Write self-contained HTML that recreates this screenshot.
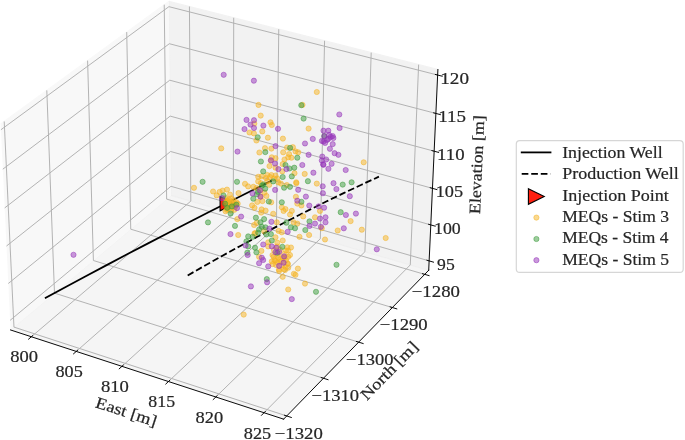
<!DOCTYPE html>
<html><head><meta charset="utf-8"><style>
html,body{margin:0;padding:0;background:#fff;}
svg{display:block;will-change:transform;}
.mpl *{stroke-linejoin:round;stroke-linecap:butt;}
text{font-family:"Liberation Serif",serif;stroke:#262626;stroke-width:0.2px;}
</style></head><body>
<svg width="685" height="440" viewBox="0 0 685 440">
<rect width="685" height="440" fill="#fff"/>
<g class="mpl" transform="scale(1.3888889)">
<g id="figure_1">
  <g id="patch_1">
   <path d="M -18.841095 323.876609 
L 331.194357 323.876609 
L 331.194357 -26.158843 
L -18.841095 -26.158843 
z
" style="fill: #ffffff"/>
  </g>
  <g id="pane3d_1">
   <g id="patch_2">
    <path d="M 7.588996 237.569084 
L 123.182134 140.676624 
L 121.575278 0.940375 
L 0.450413 89.331785 
" style="fill: #f2f2f2; opacity: 0.5; stroke: #f2f2f2; stroke-width: 0.864; stroke-linejoin: miter"/>
   </g>
  </g>
  <g id="pane3d_2">
   <g id="patch_3">
    <path d="M 123.182134 140.676624 
L 308.667876 194.590006 
L 315.287208 50.040703 
L 121.575278 0.940375 
" style="fill: #e6e6e6; opacity: 0.5; stroke: #e6e6e6; stroke-width: 0.864; stroke-linejoin: miter"/>
   </g>
  </g>
  <g id="pane3d_3">
   <g id="patch_4">
    <path d="M 7.588996 237.569084 
L 204.212942 301.786465 
L 308.667876 194.590006 
L 123.182134 140.676624 
" style="fill: #ececec; opacity: 0.5; stroke: #ececec; stroke-width: 0.864; stroke-linejoin: miter"/>
   </g>
  </g>
  <g id="grid3d_1">
   <g id="Line3DCollection_1">
    <path d="M 22.592725 242.469302 
L 137.393772 144.807386 
L 136.38829 4.695042 
" style="fill: none; stroke: #b0b0b0; stroke-width: 0.6912"/>
    <path d="M 54.9068 253.023079 
L 167.969336 153.694495 
L 168.273909 12.777117 
" style="fill: none; stroke: #b0b0b0; stroke-width: 0.6912"/>
    <path d="M 87.798813 263.76561 
L 199.046157 162.7273 
L 200.704999 20.997453 
" style="fill: none; stroke: #b0b0b0; stroke-width: 0.6912"/>
    <path d="M 121.284407 274.702005 
L 230.636664 171.909414 
L 233.695677 29.359628 
" style="fill: none; stroke: #b0b0b0; stroke-width: 0.6912"/>
    <path d="M 155.379798 285.83756 
L 262.753699 181.244568 
L 267.260554 37.867346 
" style="fill: none; stroke: #b0b0b0; stroke-width: 0.6912"/>
    <path d="M 190.101795 297.177764 
L 295.410537 190.736621 
L 301.41475 46.524439 
" style="fill: none; stroke: #b0b0b0; stroke-width: 0.6912"/>
   </g>
  </g>
  <g id="grid3d_2">
   <g id="Line3DCollection_2">
    <path d="M 3.036123 87.444852 
L 10.047464 235.508347 
L 206.44414 299.496707 
" style="fill: none; stroke: #b0b0b0; stroke-width: 0.6912"/>
    <path d="M 33.704325 65.064594 
L 39.236869 211.041209 
L 232.903108 272.343297 
" style="fill: none; stroke: #b0b0b0; stroke-width: 0.6912"/>
    <path d="M 63.075169 43.631091 
L 67.244091 187.565 
L 258.235019 246.346524 
" style="fill: none; stroke: #b0b0b0; stroke-width: 0.6912"/>
    <path d="M 91.229272 23.085509 
L 94.139524 165.020716 
L 282.510386 221.434026 
" style="fill: none; stroke: #b0b0b0; stroke-width: 0.6912"/>
    <path d="M 118.240707 3.373793 
L 119.988079 143.353944 
L 305.793956 197.539355 
" style="fill: none; stroke: #b0b0b0; stroke-width: 0.6912"/>
   </g>
  </g>
  <g id="grid3d_3">
   <g id="Line3DCollection_3">
    <path d="M 308.976862 187.842544 
L 123.106976 134.140692 
L 7.256307 230.660583 
" style="fill: none; stroke: #b0b0b0; stroke-width: 0.6912"/>
    <path d="M 310.163074 161.938693 
L 122.818578 109.060888 
L 5.978611 204.128398 
" style="fill: none; stroke: #b0b0b0; stroke-width: 0.6912"/>
    <path d="M 311.368446 135.61645 
L 122.525746 83.595445 
L 4.679487 177.151251 
" style="fill: none; stroke: #b0b0b0; stroke-width: 0.6912"/>
    <path d="M 312.593446 108.865596 
L 122.228376 57.735397 
L 3.358392 149.717854 
" style="fill: none; stroke: #b0b0b0; stroke-width: 0.6912"/>
    <path d="M 313.838556 81.675577 
L 121.926362 31.471503 
L 2.014763 121.816533 
" style="fill: none; stroke: #b0b0b0; stroke-width: 0.6912"/>
    <path d="M 315.104275 54.035488 
L 121.619594 4.794227 
L 0.648019 93.435215 
" style="fill: none; stroke: #b0b0b0; stroke-width: 0.6912"/>
   </g>
  </g>
  <g id="axis3d_1">
   <g id="line2d_1">
    <path d="M 7.588996 237.569084 
L 204.212942 301.786465 
" style="fill: none; stroke: #000000; stroke-width: 0.6912; stroke-linecap: square"/>
   </g>
   <g id="xtick_1">
    <g id="line2d_2">
     <path d="M 23.592475 241.618809 
L 20.588931 244.173941 
" style="fill: none; stroke: #000000; stroke-width: 0.6912; stroke-linecap: square"/>
    </g>
   </g>
   <g id="xtick_2">
    <g id="line2d_3">
     <path d="M 55.89212 252.157448 
L 52.931892 254.758091 
" style="fill: none; stroke: #000000; stroke-width: 0.6912; stroke-linecap: square"/>
    </g>
   </g>
   <g id="xtick_3">
    <g id="line2d_4">
     <path d="M 88.769024 262.884434 
L 85.854149 265.531815 
" style="fill: none; stroke: #000000; stroke-width: 0.6912; stroke-linecap: square"/>
    </g>
   </g>
   <g id="xtick_4">
    <g id="line2d_5">
     <path d="M 122.238802 273.804861 
L 119.371408 276.500251 
" style="fill: none; stroke: #000000; stroke-width: 0.6912; stroke-linecap: square"/>
    </g>
   </g>
   <g id="xtick_5">
    <g id="line2d_6">
     <path d="M 156.317637 284.92401 
L 153.499945 287.668726 
" style="fill: none; stroke: #000000; stroke-width: 0.6912; stroke-linecap: square"/>
    </g>
   </g>
   <g id="xtick_6">
    <g id="line2d_7">
     <path d="M 191.022306 296.247354 
L 188.256636 299.042764 
" style="fill: none; stroke: #000000; stroke-width: 0.6912; stroke-linecap: square"/>
    </g>
   </g>
  </g>
  <g id="axis3d_2">
   <g id="line2d_8">
    <path d="M 308.667876 194.590006 
L 204.212942 301.786465 
" style="fill: none; stroke: #000000; stroke-width: 0.6912; stroke-linecap: square"/>
   </g>
   <g id="xtick_7">
    <g id="line2d_9">
     <path d="M 204.788753 298.957362 
L 209.759212 300.576797 
" style="fill: none; stroke: #000000; stroke-width: 0.6912; stroke-linecap: square"/>
    </g>
   </g>
   <g id="xtick_8">
    <g id="line2d_10">
     <path d="M 231.272542 271.827166 
L 236.168382 273.37687 
" style="fill: none; stroke: #000000; stroke-width: 0.6912; stroke-linecap: square"/>
    </g>
   </g>
   <g id="xtick_9">
    <g id="line2d_11">
     <path d="M 256.628684 245.85214 
L 261.451684 247.336521 
" style="fill: none; stroke: #000000; stroke-width: 0.6912; stroke-linecap: square"/>
    </g>
   </g>
   <g id="xtick_10">
    <g id="line2d_12">
     <path d="M 280.927698 220.960043 
L 285.679613 222.383147 
" style="fill: none; stroke: #000000; stroke-width: 0.6912; stroke-linecap: square"/>
    </g>
   </g>
   <g id="xtick_11">
    <g id="line2d_13">
     <path d="M 304.234345 197.084535 
L 308.916898 198.450079 
" style="fill: none; stroke: #000000; stroke-width: 0.6912; stroke-linecap: square"/>
    </g>
   </g>
  </g>
  <g id="axis3d_3">
   <g id="line2d_14">
    <path d="M 308.667876 194.590006 
L 315.287208 50.040703 
" style="fill: none; stroke: #000000; stroke-width: 0.6912; stroke-linecap: square"/>
   </g>
   <g id="xtick_12">
    <g id="line2d_15">
     <path d="M 307.416749 187.391794 
L 312.100806 188.74512 
" style="fill: none; stroke: #000000; stroke-width: 0.6912; stroke-linecap: square"/>
    </g>
   </g>
   <g id="xtick_13">
    <g id="line2d_16">
     <path d="M 308.589994 161.494692 
L 313.313015 162.82776 
" style="fill: none; stroke: #000000; stroke-width: 0.6912; stroke-linecap: square"/>
    </g>
   </g>
   <g id="xtick_14">
    <g id="line2d_17">
     <path d="M 309.782181 135.179477 
L 314.544819 136.491454 
" style="fill: none; stroke: #000000; stroke-width: 0.6912; stroke-linecap: square"/>
    </g>
   </g>
   <g id="xtick_15">
    <g id="line2d_18">
     <path d="M 310.993773 108.43594 
L 315.796697 109.725958 
" style="fill: none; stroke: #000000; stroke-width: 0.6912; stroke-linecap: square"/>
    </g>
   </g>
   <g id="xtick_16">
    <g id="line2d_19">
     <path d="M 312.225247 81.253537 
L 317.069144 82.520696 
" style="fill: none; stroke: #000000; stroke-width: 0.6912; stroke-linecap: square"/>
    </g>
   </g>
   <g id="xtick_17">
    <g id="line2d_20">
     <path d="M 313.477097 53.621376 
L 318.362671 54.86474 
" style="fill: none; stroke: #000000; stroke-width: 0.6912; stroke-linecap: square"/>
    </g>
   </g>
  </g>
  <g id="axes_1"/>
 </g>

</g>
<path d="M45.70,297.78 L66.17,286.72 L86.65,275.74 L107.12,264.86 L127.59,254.07 L148.06,243.37 L168.54,232.76 L189.01,222.24 L209.48,211.81 L229.95,201.47 L250.43,191.22 L270.90,181.06" fill="none" stroke="#000" stroke-width="1.8" stroke-linecap="square"/>
<path d="M187.70,275.41 L205.08,265.48 L222.46,255.74 L239.85,246.19 L257.23,236.83 L274.61,227.66 L291.99,218.69 L309.37,209.90 L326.75,201.31 L344.14,192.91 L361.52,184.70 L378.90,176.69" fill="none" stroke="#000" stroke-width="1.8" stroke-dasharray="6.66 2.88"/>
<path d="M220.10,196.45 L234.70,203.65 L220.10,210.85 Z" fill="#ff2010" stroke="#000" stroke-width="1.1" stroke-linejoin="miter"/>
<g fill="#f5b423" fill-opacity="0.5" stroke="#f5b423" stroke-opacity="0.5" stroke-width="1.0"><circle cx="363.7" cy="162.3" r="2.6"/><circle cx="194.0" cy="187.8" r="2.6"/><circle cx="258.5" cy="104.9" r="2.6"/><circle cx="316.8" cy="92.0" r="2.6"/><circle cx="302.5" cy="104.9" r="2.6"/><circle cx="221.2" cy="148.4" r="2.6"/><circle cx="254.3" cy="123.6" r="2.6"/><circle cx="249.5" cy="132.5" r="2.6"/><circle cx="253.9" cy="133.4" r="2.6"/><circle cx="260.7" cy="115.6" r="2.6"/><circle cx="270.5" cy="122.3" r="2.6"/><circle cx="271.8" cy="125.0" r="2.6"/><circle cx="262.3" cy="131.4" r="2.6"/><circle cx="256.4" cy="140.5" r="2.6"/><circle cx="267.9" cy="137.7" r="2.6"/><circle cx="282.9" cy="138.6" r="2.6"/><circle cx="308.6" cy="128.6" r="2.6"/><circle cx="304.7" cy="173.9" r="2.6"/><circle cx="316.8" cy="183.6" r="2.6"/><circle cx="350.6" cy="221.1" r="2.6"/><circle cx="361.8" cy="229.7" r="2.6"/><circle cx="385.7" cy="238.0" r="2.6"/><circle cx="296.4" cy="183.2" r="2.6"/><circle cx="280.9" cy="183.6" r="2.6"/><circle cx="286.8" cy="185.0" r="2.6"/><circle cx="295.9" cy="196.8" r="2.6"/><circle cx="297.3" cy="203.6" r="2.6"/><circle cx="301.4" cy="205.5" r="2.6"/><circle cx="281.8" cy="207.3" r="2.6"/><circle cx="285.5" cy="209.1" r="2.6"/><circle cx="291.8" cy="210.9" r="2.6"/><circle cx="290.0" cy="214.5" r="2.6"/><circle cx="283.6" cy="210.9" r="2.6"/><circle cx="320.0" cy="210.9" r="2.6"/><circle cx="303.2" cy="216.4" r="2.6"/><circle cx="315.0" cy="217.3" r="2.6"/><circle cx="259.4" cy="152.5" r="2.6"/><circle cx="265.0" cy="148.2" r="2.6"/><circle cx="271.4" cy="148.6" r="2.6"/><circle cx="287.0" cy="147.5" r="2.6"/><circle cx="292.9" cy="147.2" r="2.6"/><circle cx="283.2" cy="152.3" r="2.6"/><circle cx="289.1" cy="154.1" r="2.6"/><circle cx="295.5" cy="151.4" r="2.6"/><circle cx="298.2" cy="152.3" r="2.6"/><circle cx="271.8" cy="157.3" r="2.6"/><circle cx="275.5" cy="158.2" r="2.6"/><circle cx="269.5" cy="166.1" r="2.6"/><circle cx="275.5" cy="167.7" r="2.6"/><circle cx="284.5" cy="159.5" r="2.6"/><circle cx="288.2" cy="157.3" r="2.6"/><circle cx="291.4" cy="157.7" r="2.6"/><circle cx="282.7" cy="164.1" r="2.6"/><circle cx="282.3" cy="171.4" r="2.6"/><circle cx="294.5" cy="173.2" r="2.6"/><circle cx="296.2" cy="182.3" r="2.6"/><circle cx="258.2" cy="176.8" r="2.6"/><circle cx="261.8" cy="176.4" r="2.6"/><circle cx="267.3" cy="175.0" r="2.6"/><circle cx="271.4" cy="175.0" r="2.6"/><circle cx="275.5" cy="175.5" r="2.6"/><circle cx="277.3" cy="178.6" r="2.6"/><circle cx="258.2" cy="181.4" r="2.6"/><circle cx="260.9" cy="183.2" r="2.6"/><circle cx="267.3" cy="181.4" r="2.6"/><circle cx="278.2" cy="182.3" r="2.6"/><circle cx="245.0" cy="183.8" r="2.6"/><circle cx="213.1" cy="191.5" r="2.6"/><circle cx="216.7" cy="195.4" r="2.6"/><circle cx="219.6" cy="191.9" r="2.6"/><circle cx="222.6" cy="190.6" r="2.6"/><circle cx="227.0" cy="189.6" r="2.6"/><circle cx="230.0" cy="194.6" r="2.6"/><circle cx="231.2" cy="198.4" r="2.6"/><circle cx="238.5" cy="193.1" r="2.6"/><circle cx="225.5" cy="198.2" r="2.6"/><circle cx="228.2" cy="201.6" r="2.6"/><circle cx="232.3" cy="202.3" r="2.6"/><circle cx="234.3" cy="204.4" r="2.6"/><circle cx="236.4" cy="202.3" r="2.6"/><circle cx="237.7" cy="203.7" r="2.6"/><circle cx="226.8" cy="209.8" r="2.6"/><circle cx="230.9" cy="210.5" r="2.6"/><circle cx="234.3" cy="209.8" r="2.6"/><circle cx="228.9" cy="205.7" r="2.6"/><circle cx="225.5" cy="211.2" r="2.6"/><circle cx="248.1" cy="186.4" r="2.6"/><circle cx="253.3" cy="186.8" r="2.6"/><circle cx="269.2" cy="184.8" r="2.6"/><circle cx="256.5" cy="188.0" r="2.6"/><circle cx="264.4" cy="192.7" r="2.6"/><circle cx="266.4" cy="195.9" r="2.6"/><circle cx="257.3" cy="201.9" r="2.6"/><circle cx="262.4" cy="201.1" r="2.6"/><circle cx="252.1" cy="205.4" r="2.6"/><circle cx="254.5" cy="207.8" r="2.6"/><circle cx="271.2" cy="202.3" r="2.6"/><circle cx="261.6" cy="209.4" r="2.6"/><circle cx="265.6" cy="210.6" r="2.6"/><circle cx="261.2" cy="212.6" r="2.6"/><circle cx="273.2" cy="213.8" r="2.6"/><circle cx="237.3" cy="219.1" r="2.6"/><circle cx="238.2" cy="235.0" r="2.6"/><circle cx="254.1" cy="225.0" r="2.6"/><circle cx="256.8" cy="222.7" r="2.6"/><circle cx="276.8" cy="222.3" r="2.6"/><circle cx="278.6" cy="230.9" r="2.6"/><circle cx="281.8" cy="232.3" r="2.6"/><circle cx="254.5" cy="233.6" r="2.6"/><circle cx="275.5" cy="237.3" r="2.6"/><circle cx="282.7" cy="240.5" r="2.6"/><circle cx="268.2" cy="242.3" r="2.6"/><circle cx="268.2" cy="246.4" r="2.6"/><circle cx="287.3" cy="247.3" r="2.6"/><circle cx="277.3" cy="242.7" r="2.6"/><circle cx="293.6" cy="222.3" r="2.6"/><circle cx="297.3" cy="223.6" r="2.6"/><circle cx="321.8" cy="228.2" r="2.6"/><circle cx="309.1" cy="235.0" r="2.6"/><circle cx="299.5" cy="236.8" r="2.6"/><circle cx="325.0" cy="239.5" r="2.6"/><circle cx="337.7" cy="230.5" r="2.6"/><circle cx="291.0" cy="247.5" r="2.6"/><circle cx="261.4" cy="250.9" r="2.6"/><circle cx="259.1" cy="256.8" r="2.6"/><circle cx="288.2" cy="250.5" r="2.6"/><circle cx="273.6" cy="256.8" r="2.6"/><circle cx="278.2" cy="257.7" r="2.6"/><circle cx="284.5" cy="257.7" r="2.6"/><circle cx="288.2" cy="256.8" r="2.6"/><circle cx="271.8" cy="261.4" r="2.6"/><circle cx="275.5" cy="260.5" r="2.6"/><circle cx="280.9" cy="261.4" r="2.6"/><circle cx="287.3" cy="263.2" r="2.6"/><circle cx="272.7" cy="264.1" r="2.6"/><circle cx="285.5" cy="266.8" r="2.6"/><circle cx="279.1" cy="270.9" r="2.6"/><circle cx="283.6" cy="269.1" r="2.6"/><circle cx="288.2" cy="267.7" r="2.6"/><circle cx="282.7" cy="276.8" r="2.6"/><circle cx="297.9" cy="268.6" r="2.6"/><circle cx="293.9" cy="273.8" r="2.6"/><circle cx="295.5" cy="274.8" r="2.6"/><circle cx="305.0" cy="283.6" r="2.6"/><circle cx="288.2" cy="289.5" r="2.6"/><circle cx="243.7" cy="314.6" r="2.6"/><circle cx="226.2" cy="203.0" r="2.6"/><circle cx="227.5" cy="206.5" r="2.6"/><circle cx="228.8" cy="199.5" r="2.6"/><circle cx="226.5" cy="200.8" r="2.6"/><circle cx="228.5" cy="208.5" r="2.6"/><circle cx="233.5" cy="200.0" r="2.6"/><circle cx="235.0" cy="207.0" r="2.6"/><circle cx="274.0" cy="250.0" r="2.6"/><circle cx="280.0" cy="249.5" r="2.6"/><circle cx="286.0" cy="250.5" r="2.6"/><circle cx="272.5" cy="255.0" r="2.6"/><circle cx="278.0" cy="255.0" r="2.6"/><circle cx="284.0" cy="254.0" r="2.6"/><circle cx="290.0" cy="255.0" r="2.6"/><circle cx="274.5" cy="260.0" r="2.6"/><circle cx="280.0" cy="260.0" r="2.6"/><circle cx="286.0" cy="260.0" r="2.6"/><circle cx="276.0" cy="265.0" r="2.6"/><circle cx="282.0" cy="265.5" r="2.6"/><circle cx="288.0" cy="264.0" r="2.6"/><circle cx="279.0" cy="269.5" r="2.6"/><circle cx="285.0" cy="270.0" r="2.6"/><circle cx="277.0" cy="246.5" r="2.6"/><circle cx="283.0" cy="258.0" r="2.6"/><circle cx="277.5" cy="262.5" r="2.6"/><circle cx="264.1" cy="231.1" r="2.6"/><circle cx="255.2" cy="233.0" r="2.6"/><circle cx="227.5" cy="200.5" r="2.6"/><circle cx="229.0" cy="204.0" r="2.6"/><circle cx="227.5" cy="209.0" r="2.6"/><circle cx="230.5" cy="202.0" r="2.6"/><circle cx="231.5" cy="207.5" r="2.6"/><circle cx="233.0" cy="204.5" r="2.6"/><circle cx="270.9" cy="160.6" r="2.6"/><circle cx="260.2" cy="190.5" r="2.6"/><circle cx="260.6" cy="196.5" r="2.6"/><circle cx="270.0" cy="177.0" r="2.6"/><circle cx="274.0" cy="178.5" r="2.6"/><circle cx="266.0" cy="178.0" r="2.6"/></g>
<g fill="#3c9b3c" fill-opacity="0.5" stroke="#3c9b3c" stroke-opacity="0.5" stroke-width="1.0"><circle cx="208.0" cy="222.4" r="2.6"/><circle cx="301.3" cy="105.2" r="2.6"/><circle cx="257.7" cy="137.3" r="2.6"/><circle cx="303.6" cy="118.6" r="2.6"/><circle cx="324.3" cy="136.1" r="2.6"/><circle cx="307.9" cy="181.2" r="2.6"/><circle cx="342.7" cy="184.6" r="2.6"/><circle cx="351.6" cy="182.3" r="2.6"/><circle cx="340.7" cy="212.2" r="2.6"/><circle cx="284.1" cy="187.7" r="2.6"/><circle cx="290.0" cy="186.8" r="2.6"/><circle cx="301.4" cy="201.8" r="2.6"/><circle cx="281.8" cy="202.3" r="2.6"/><circle cx="290.1" cy="147.9" r="2.6"/><circle cx="265.3" cy="152.1" r="2.6"/><circle cx="260.9" cy="161.5" r="2.6"/><circle cx="297.3" cy="157.7" r="2.6"/><circle cx="285.5" cy="165.0" r="2.6"/><circle cx="289.5" cy="168.5" r="2.6"/><circle cx="294.3" cy="167.7" r="2.6"/><circle cx="282.7" cy="177.0" r="2.6"/><circle cx="291.8" cy="176.4" r="2.6"/><circle cx="263.2" cy="171.4" r="2.6"/><circle cx="273.2" cy="181.4" r="2.6"/><circle cx="263.5" cy="184.5" r="2.6"/><circle cx="202.6" cy="181.8" r="2.6"/><circle cx="237.0" cy="181.8" r="2.6"/><circle cx="223.5" cy="195.5" r="2.6"/><circle cx="225.1" cy="203.7" r="2.6"/><circle cx="227.2" cy="207.8" r="2.6"/><circle cx="231.9" cy="206.4" r="2.6"/><circle cx="236.4" cy="204.7" r="2.6"/><circle cx="230.6" cy="213.6" r="2.6"/><circle cx="262.0" cy="185.6" r="2.6"/><circle cx="265.2" cy="188.7" r="2.6"/><circle cx="258.0" cy="191.9" r="2.6"/><circle cx="256.9" cy="194.3" r="2.6"/><circle cx="253.3" cy="198.7" r="2.6"/><circle cx="268.8" cy="201.5" r="2.6"/><circle cx="235.0" cy="225.9" r="2.6"/><circle cx="255.9" cy="217.7" r="2.6"/><circle cx="264.1" cy="219.1" r="2.6"/><circle cx="260.5" cy="222.3" r="2.6"/><circle cx="286.4" cy="222.7" r="2.6"/><circle cx="261.8" cy="226.8" r="2.6"/><circle cx="265.5" cy="227.3" r="2.6"/><circle cx="259.1" cy="229.5" r="2.6"/><circle cx="258.2" cy="232.7" r="2.6"/><circle cx="266.4" cy="234.5" r="2.6"/><circle cx="270.9" cy="234.1" r="2.6"/><circle cx="248.2" cy="236.4" r="2.6"/><circle cx="252.7" cy="236.8" r="2.6"/><circle cx="271.8" cy="240.5" r="2.6"/><circle cx="246.4" cy="241.4" r="2.6"/><circle cx="248.2" cy="246.4" r="2.6"/><circle cx="282.3" cy="246.8" r="2.6"/><circle cx="255.0" cy="247.7" r="2.6"/><circle cx="290.9" cy="227.3" r="2.6"/><circle cx="295.0" cy="228.2" r="2.6"/><circle cx="309.5" cy="221.4" r="2.6"/><circle cx="305.3" cy="230.0" r="2.6"/><circle cx="256.4" cy="252.3" r="2.6"/><circle cx="247.3" cy="252.7" r="2.6"/><circle cx="277.3" cy="252.7" r="2.6"/><circle cx="266.8" cy="279.1" r="2.6"/><circle cx="336.5" cy="264.8" r="2.6"/><circle cx="316.0" cy="291.8" r="2.6"/></g>
<g fill="#9634b9" fill-opacity="0.5" stroke="#9634b9" stroke-opacity="0.5" stroke-width="1.0"><circle cx="73.5" cy="254.8" r="2.6"/><circle cx="223.7" cy="74.8" r="2.6"/><circle cx="253.9" cy="80.7" r="2.6"/><circle cx="237.5" cy="151.6" r="2.6"/><circle cx="246.5" cy="119.9" r="2.6"/><circle cx="254.0" cy="120.2" r="2.6"/><circle cx="250.5" cy="124.6" r="2.6"/><circle cx="254.0" cy="128.0" r="2.6"/><circle cx="244.5" cy="129.1" r="2.6"/><circle cx="263.4" cy="125.6" r="2.6"/><circle cx="278.0" cy="128.8" r="2.6"/><circle cx="275.5" cy="146.1" r="2.6"/><circle cx="305.0" cy="143.5" r="2.6"/><circle cx="339.3" cy="114.5" r="2.6"/><circle cx="339.6" cy="128.0" r="2.6"/><circle cx="323.5" cy="130.7" r="2.6"/><circle cx="328.3" cy="130.7" r="2.6"/><circle cx="324.3" cy="136.1" r="2.6"/><circle cx="329.1" cy="134.9" r="2.6"/><circle cx="332.7" cy="136.1" r="2.6"/><circle cx="333.4" cy="138.0" r="2.6"/><circle cx="328.3" cy="138.9" r="2.6"/><circle cx="321.9" cy="140.9" r="2.6"/><circle cx="325.1" cy="142.9" r="2.6"/><circle cx="312.8" cy="138.9" r="2.6"/><circle cx="332.7" cy="144.1" r="2.6"/><circle cx="329.9" cy="148.8" r="2.6"/><circle cx="334.6" cy="153.2" r="2.6"/><circle cx="338.4" cy="154.8" r="2.6"/><circle cx="308.6" cy="154.8" r="2.6"/><circle cx="322.3" cy="156.6" r="2.6"/><circle cx="326.2" cy="159.5" r="2.6"/><circle cx="321.8" cy="160.5" r="2.6"/><circle cx="323.2" cy="164.3" r="2.6"/><circle cx="323.4" cy="164.8" r="2.6"/><circle cx="331.6" cy="163.8" r="2.6"/><circle cx="302.3" cy="165.0" r="2.6"/><circle cx="328.4" cy="168.8" r="2.6"/><circle cx="345.7" cy="170.0" r="2.6"/><circle cx="313.4" cy="172.7" r="2.6"/><circle cx="333.5" cy="183.2" r="2.6"/><circle cx="322.7" cy="186.3" r="2.6"/><circle cx="349.8" cy="196.2" r="2.6"/><circle cx="345.9" cy="215.0" r="2.6"/><circle cx="355.9" cy="213.6" r="2.6"/><circle cx="343.8" cy="228.3" r="2.6"/><circle cx="376.8" cy="249.3" r="2.6"/><circle cx="336.4" cy="189.1" r="2.6"/><circle cx="322.9" cy="193.2" r="2.6"/><circle cx="298.2" cy="189.8" r="2.6"/><circle cx="305.9" cy="196.6" r="2.6"/><circle cx="297.3" cy="200.7" r="2.6"/><circle cx="309.3" cy="205.6" r="2.6"/><circle cx="318.6" cy="206.4" r="2.6"/><circle cx="324.1" cy="207.7" r="2.6"/><circle cx="320.0" cy="218.6" r="2.6"/><circle cx="325.5" cy="217.3" r="2.6"/><circle cx="270.9" cy="160.3" r="2.6"/><circle cx="275.0" cy="163.6" r="2.6"/><circle cx="278.4" cy="169.1" r="2.6"/><circle cx="286.4" cy="169.1" r="2.6"/><circle cx="222.0" cy="198.2" r="2.6"/><circle cx="237.0" cy="208.1" r="2.6"/><circle cx="241.1" cy="216.6" r="2.6"/><circle cx="260.0" cy="190.3" r="2.6"/><circle cx="252.5" cy="193.5" r="2.6"/><circle cx="260.4" cy="196.7" r="2.6"/><circle cx="275.1" cy="189.9" r="2.6"/><circle cx="230.5" cy="234.1" r="2.6"/><circle cx="271.4" cy="221.8" r="2.6"/><circle cx="269.5" cy="228.6" r="2.6"/><circle cx="287.7" cy="231.8" r="2.6"/><circle cx="245.5" cy="245.5" r="2.6"/><circle cx="263.2" cy="244.5" r="2.6"/><circle cx="271.8" cy="246.4" r="2.6"/><circle cx="276.4" cy="247.7" r="2.6"/><circle cx="315.0" cy="223.6" r="2.6"/><circle cx="309.5" cy="225.9" r="2.6"/><circle cx="325.5" cy="222.3" r="2.6"/><circle cx="320.9" cy="226.8" r="2.6"/><circle cx="247.7" cy="255.0" r="2.6"/><circle cx="261.8" cy="257.7" r="2.6"/><circle cx="263.2" cy="260.0" r="2.6"/><circle cx="259.1" cy="263.2" r="2.6"/><circle cx="268.2" cy="266.4" r="2.6"/><circle cx="275.5" cy="252.3" r="2.6"/><circle cx="279.1" cy="251.8" r="2.6"/><circle cx="284.1" cy="256.4" r="2.6"/><circle cx="283.6" cy="262.7" r="2.6"/><circle cx="279.1" cy="265.9" r="2.6"/><circle cx="267.1" cy="282.3" r="2.6"/><circle cx="250.9" cy="286.4" r="2.6"/><circle cx="291.8" cy="299.1" r="2.6"/><circle cx="323.5" cy="141.5" r="2.6"/><circle cx="330.8" cy="136.8" r="2.6"/><circle cx="327.0" cy="140.0" r="2.6"/></g>
<text x="10.16" y="361.79" font-size="16" textLength="27.78" lengthAdjust="spacingAndGlyphs" fill="#262626">800</text>
<text x="55.47" y="376.54" font-size="16" textLength="27.25" lengthAdjust="spacingAndGlyphs" fill="#262626">805</text>
<text x="100.95" y="391.79" font-size="16" textLength="27.99" lengthAdjust="spacingAndGlyphs" fill="#262626">810</text>
<text x="148.39" y="406.99" font-size="16" textLength="26.73" lengthAdjust="spacingAndGlyphs" fill="#262626">815</text>
<text x="195.46" y="422.74" font-size="16" textLength="27.68" lengthAdjust="spacingAndGlyphs" fill="#262626">820</text>
<text x="243.87" y="438.64" font-size="16" textLength="27.36" lengthAdjust="spacingAndGlyphs" fill="#262626">825</text>
<text x="274.76" y="438.64" font-size="16" textLength="48.07" lengthAdjust="spacingAndGlyphs" fill="#262626">−1320</text>
<text x="311.47" y="400.84" font-size="16" textLength="47.65" lengthAdjust="spacingAndGlyphs" fill="#262626">−1310</text>
<text x="346.08" y="364.89" font-size="16" textLength="47.34" lengthAdjust="spacingAndGlyphs" fill="#262626">−1300</text>
<text x="379.76" y="329.99" font-size="16" textLength="47.96" lengthAdjust="spacingAndGlyphs" fill="#262626">−1290</text>
<text x="411.76" y="296.54" font-size="16" textLength="48.17" lengthAdjust="spacingAndGlyphs" fill="#262626">−1280</text>
<text x="440.27" y="84.34" font-size="16" textLength="28.69" lengthAdjust="spacingAndGlyphs" fill="#262626">120</text>
<text x="438.29" y="122.30" font-size="16" textLength="27.73" lengthAdjust="spacingAndGlyphs" fill="#262626">115</text>
<text x="437.10" y="160.34" font-size="16" textLength="27.51" lengthAdjust="spacingAndGlyphs" fill="#262626">110</text>
<text x="435.65" y="197.34" font-size="16" textLength="27.38" lengthAdjust="spacingAndGlyphs" fill="#262626">105</text>
<text x="433.99" y="233.79" font-size="16" textLength="26.73" lengthAdjust="spacingAndGlyphs" fill="#262626">100</text>
<text x="437.07" y="269.75" font-size="16" textLength="17.63" lengthAdjust="spacingAndGlyphs" fill="#262626">95</text>
<text transform="translate(125.75,412.35) rotate(18.09)" x="-31.31" y="4.48" font-size="16" textLength="63.37" lengthAdjust="spacingAndGlyphs" fill="#262626">East [m]</text>
<text transform="translate(389.50,371.50) rotate(-45.74)" x="-36.80" y="4.48" font-size="16" textLength="74.38" lengthAdjust="spacingAndGlyphs" fill="#262626">North [m]</text>
<text transform="translate(477.70,165.00) rotate(-87.38)" x="-49.04" y="4.48" font-size="16" textLength="98.80" lengthAdjust="spacingAndGlyphs" fill="#262626">Elevation [m]</text>
<rect x="516.3" y="140.6" width="166.9" height="131.8" rx="3.5" ry="3.5" fill="#fff" fill-opacity="0.8" stroke="#d6d6d6" stroke-width="1.2"/>
<text x="562.18" y="157.80" font-size="16" textLength="100.47" lengthAdjust="spacingAndGlyphs" fill="#262626">Injection Well</text>
<text x="562.26" y="179.20" font-size="16" textLength="116.58" lengthAdjust="spacingAndGlyphs" fill="#262626">Production Well</text>
<text x="562.17" y="200.60" font-size="16" textLength="106.64" lengthAdjust="spacingAndGlyphs" fill="#262626">Injection Point</text>
<text x="562.27" y="222.00" font-size="16" textLength="106.71" lengthAdjust="spacingAndGlyphs" fill="#262626">MEQs - Stim 3</text>
<text x="562.28" y="243.40" font-size="16" textLength="106.27" lengthAdjust="spacingAndGlyphs" fill="#262626">MEQs - Stim 4</text>
<text x="562.27" y="264.80" font-size="16" textLength="106.71" lengthAdjust="spacingAndGlyphs" fill="#262626">MEQs - Stim 5</text>
<line x1="521.7" y1="152.4" x2="550.5" y2="152.4" stroke="#000" stroke-width="1.8" stroke-linecap="square"/>
<line x1="521.7" y1="173.8" x2="550.5" y2="173.8" stroke="#000" stroke-width="1.8" stroke-dasharray="6.66 2.88"/>
<path d="M528.4,188.75 L544.25,196.5 L528.4,204.25 Z" fill="#ff2010" stroke="#000" stroke-width="1.1" stroke-linejoin="miter"/>
<circle cx="536.4" cy="217.6" r="2.6" fill="#f5b423" fill-opacity="0.5" stroke="#f5b423" stroke-opacity="0.5" stroke-width="1"/>
<circle cx="536.4" cy="239.0" r="2.6" fill="#3c9b3c" fill-opacity="0.5" stroke="#3c9b3c" stroke-opacity="0.5" stroke-width="1"/>
<circle cx="536.4" cy="260.2" r="2.6" fill="#9634b9" fill-opacity="0.5" stroke="#9634b9" stroke-opacity="0.5" stroke-width="1"/>
</svg>
</body></html>
